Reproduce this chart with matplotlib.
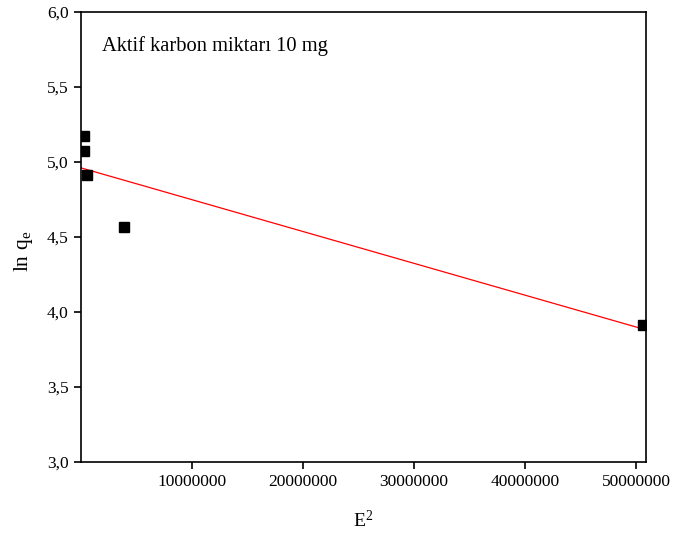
import numpy as np
import matplotlib
matplotlib.use('Agg')
import matplotlib.pyplot as plt
from matplotlib.ticker import FuncFormatter

# E^2 vs ln qe, 10 mg activated carbon
E2 = [270000, 270000, 540000, 3880000, 50600000]
lnqe = [5.17, 5.07, 4.91, 4.565, 3.91]
label_text = 'Aktif karbon miktarı 10 mg'

plt.rcParams['font.family'] = ['Liberation Serif', 'DejaVu Serif']
plt.rcParams['mathtext.fontset'] = 'custom'
plt.rcParams['mathtext.rm'] = 'Liberation Serif'
plt.rcParams['mathtext.it'] = 'Liberation Serif'

fig = plt.figure(figsize=(6.73, 5.38), dpi=100)
ax = fig.add_axes([0.1204, 0.1413, 0.8395, 0.8364])

# linear fit through the points
slope, intercept = np.polyfit(E2, lnqe, 1)
xfit = np.array([0, 50900000])
ax.plot(xfit, slope * xfit + intercept, '-', color='red', linewidth=0.9, zorder=2)
ax.plot(E2, lnqe, 's', color='black', markersize=7.5, zorder=3)

ax.set_xlim(0, 50900000)
ax.set_ylim(3.0, 6.0)
ax.set_xticks([10000000, 20000000, 30000000, 40000000, 50000000])
ax.set_yticks(np.arange(3.0, 6.01, 0.5))
ax.xaxis.set_major_formatter(FuncFormatter(lambda v, p: '%d' % v))
ax.yaxis.set_major_formatter(FuncFormatter(lambda v, p: ('%.1f' % v).replace('.', ',')))

ax.tick_params(direction='out', length=5, width=1.2, labelsize=12.5, pad=4)
for s in ax.spines.values():
    s.set_linewidth(1.2)

ax.set_xlabel(r'E$^{2}$', fontsize=14, labelpad=14)
ax.set_ylabel(r'ln q$_{\mathrm{e}}$', fontsize=15.5)
ax.yaxis.set_label_coords(-0.081, 0.469)
ax.text(0.037, 0.925, label_text, transform=ax.transAxes, fontsize=14.8, va='center')

fig.savefig('out.png', dpi=100)
